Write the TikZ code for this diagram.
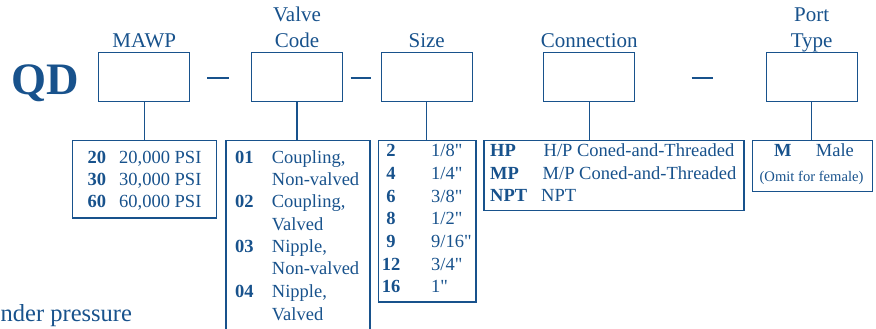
\documentclass[tikz,border=0pt]{standalone}
\usepackage{fontspec}
\setmainfont{Liberation Serif}[Ligatures=TeXOff]
\usetikzlibrary{positioning}
\definecolor{qdblue}{RGB}{24,82,140}

\begin{document}
\begin{tikzpicture}[
  x=1pt, y=-1pt,
  every node/.style={text=qdblue, inner sep=0pt},
  field/.style={draw=qdblue, line width=1.3pt, minimum width=91pt, minimum height=49pt},
  listbox/.style={draw=qdblue, line width=1.3pt, anchor=north west},
  head/.style={font=\fontsize{21}{26}\selectfont, align=center, anchor=base},
  code/.style={font=\fontsize{18.5}{22}\selectfont\bfseries, anchor=base west},
  desc/.style={font=\fontsize{18.5}{22}\selectfont, anchor=base west},
  stem/.style={draw=qdblue, line width=1.3pt},
  dashmark/.style={draw=qdblue, line width=1.3pt}
]
\clip (0,0) rectangle (876,329);

\node[font=\fontsize{45}{50}\selectfont\bfseries, anchor=base] (qd) at (45.5,94.3) {QD};

% code fields
\node[field] (mawp) at (144.2,76.8) {};
\node[field] (valve) at (297,76.8) {};
\node[field] (size) at (426.7,76.8) {};
\node[field] (conn) at (589.2,76.8) {};
\node[field] (port) at (811.7,76.8) {};

\node[head] (mawphead) at ([yshift=4pt]mawp.north) {MAWP};
\node[head] (valvehead) at ([yshift=4pt]valve.north) {Valve\\Code};
\node[head] (sizehead) at ([yshift=4pt]size.north) {Size};
\node[head] (connhead) at ([yshift=4pt]conn.north) {Connection};
\node[head] (porthead) at ([yshift=4pt]port.north) {Port\\Type};

\draw[dashmark] (207.3,78) -- (228.7,78);
\draw[dashmark] (350.7,78) -- (371,78);
\draw[dashmark] (691.7,78) -- (712.7,78);

% option lists
\node[listbox, minimum width=144pt, minimum height=77.3pt] (mawplist) at (72,140) {};
\node[listbox, minimum width=144pt, minimum height=210pt] (valvelist) at (225.3,140) {};
\node[listbox, minimum width=97.6pt, minimum height=161.3pt] (sizelist) at (377.7,140) {};
\node[listbox, minimum width=260pt, minimum height=70pt] (connlist) at (483.3,140) {};
\node[listbox, minimum width=119.7pt, minimum height=50.7pt] (portlist) at (752,140) {};

\draw[stem] (mawp.south) -- (mawp.south |- mawplist.north);
\draw[stem] (valve.south) -- (valve.south |- valvelist.north);
\draw[stem] (size.south) -- (size.south |- sizelist.north);
\draw[stem] (conn.south) -- (conn.south |- connlist.north);
\draw[stem] (port.south) -- (port.south |- portlist.north);

% MAWP
\node[code] (m20) at (87.3,163.3) {20};
\node[desc] (m20d) at (119,163.3) {20,000 PSI};
\node[code] (m30) at (87.3,185.3) {30};
\node[desc] (m30d) at (119,185.3) {30,000 PSI};
\node[code] (m60) at (87.3,207.3) {60};
\node[desc] (m60d) at (119,207.3) {60,000 PSI};

% valve code
\node[code] (v01) at (235,163.3) {01};
\node[desc] (v01d) at (271.7,163.3) {Coupling,};
\node[desc] (v01e) at (271.7,185.6) {Non-valved};
\node[code] (v02) at (235,207.9) {02};
\node[desc] (v02d) at (271.7,207.9) {Coupling,};
\node[desc] (v02e) at (271.7,230.2) {Valved};
\node[code] (v03) at (235,252.5) {03};
\node[desc] (v03d) at (271.7,252.5) {Nipple,};
\node[desc] (v03e) at (271.7,274.8) {Non-valved};
\node[code] (v04) at (235,297.7) {04};
\node[desc] (v04d) at (271.7,297.7) {Nipple,};
\node[desc] (v04e) at (271.7,320) {Valved};

% size
\node[code, anchor=base] (s2) at (391,156.7) {2};
\node[desc] (s2d) at (431,156.7) {1/8"};
\node[code, anchor=base] (s4) at (391,179.4) {4};
\node[desc] (s4d) at (431,179.4) {1/4"};
\node[code, anchor=base] (s6) at (391,202.1) {6};
\node[desc] (s6d) at (431,202.1) {3/8"};
\node[code, anchor=base] (s8) at (391,224.8) {8};
\node[desc] (s8d) at (431,224.8) {1/2"};
\node[code, anchor=base] (s9) at (391,247.5) {9};
\node[desc] (s9d) at (431,247.5) {9/16"};
\node[code, anchor=base] (s12) at (391,270.2) {12};
\node[desc] (s12d) at (431,270.2) {3/4"};
\node[code, anchor=base] (s16) at (391,292.9) {16};
\node[desc] (s16d) at (431,292.9) {1"};

% connection
\node[code] (chp) at (490,156.7) {HP};
\node[desc] (chpd) at (543.5,156.7) {H/P Coned-and-Threaded};
\node[code] (cmp) at (490,179.3) {MP};
\node[desc] (cmpd) at (542.5,179.3) {M/P Coned-and-Threaded};
\node[code] (cnpt) at (490,201.7) {NPT};
\node[desc] (cnptd) at (541,201.7) {NPT};

% port type
\node[code] (pm) at (774,156.7) {M};
\node[desc] (pmd) at (815.7,156.7) {Male};
\node[font=\fontsize{14.6}{16}\selectfont, anchor=base] (pomit) at (811.5,181) {(Omit for female)};

\node[font=\fontsize{24.5}{28}\selectfont, anchor=base west] (note) at (0.5,321.7) {nder pressure};
\end{tikzpicture}
\end{document}
